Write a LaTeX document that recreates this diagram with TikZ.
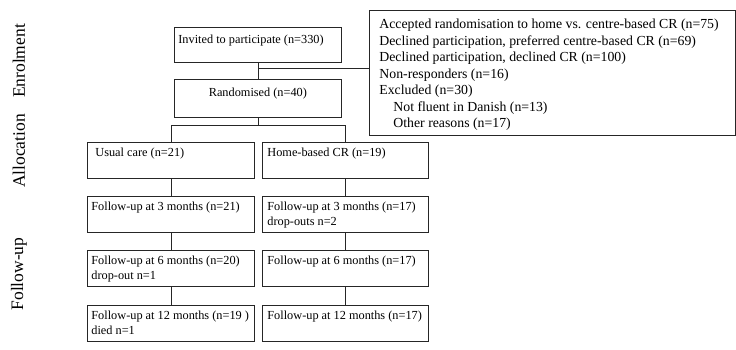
\documentclass[tikz,border=0pt]{standalone}
\usepackage{fontspec}
\setmainfont{Liberation Serif}
\usetikzlibrary{calc}
\newcommand{\bxt}[4]{\parbox[t][#2][t]{#1}{\raggedright\fontsize{12.3}{15}\selectfont\rule{0pt}{#3}#4}}
\begin{document}
\begin{tikzpicture}[x=1pt,y=-1pt,
  box/.style={draw=black!85, line width=0.8pt, anchor=north west, inner xsep=3pt, inner ysep=0pt},
  conn/.style={draw=black!85, line width=0.8pt},
  side/.style={rotate=90, font=\fontsize{17.5}{20}\selectfont, inner sep=0pt}]
\useasboundingbox (0,0) rectangle (736,349);

% side labels
\node[side] (lenr) at (19,61) {Enrolment};
\node[side] (lall) at (19,151) {Allocation};
\node[side] (lfol) at (19,274) {Follow-up};

% top boxes
\node[box] (inv) at (174,27) {\bxt{161pt}{35pt}{16pt}{\hspace*{1pt}Invited to participate (n=330)}};
\node[box] (rand) at (174,79) {\bxt{161pt}{38pt}{17pt}{\centering Randomised (n=40)}};

% exclusion box
\node[box, inner xsep=10pt] (excl) at (369,10) {\parbox[t][125pt][t]{346pt}{\raggedright\fontsize{13.8}{16.5}\selectfont\rule{0pt}{18.5pt}Accepted randomisation to home vs. centre-based CR (n=75)\\
Declined participation, preferred centre-based CR (n=69)\\
Declined participation, declined CR (n=100)\\
Non-responders (n=16)\\
Excluded (n=30)\\
\hspace*{14pt}Not fluent in Danish (n=13)\\
\hspace*{14pt}Other reasons (n=17)}};

% left column
\node[box] (uc) at (87,142) {\bxt{161pt}{36pt}{14pt}{\hspace*{5pt}Usual care (n=21)}};
\node[box] (uc3) at (87,196) {\bxt{161pt}{36pt}{14.5pt}{\hspace*{1pt}Follow-up at 3 months (n=21)}};
\node[box] (uc6) at (87,250) {\bxt{161pt}{36pt}{14pt}{\hspace*{1pt}Follow-up at 6 months (n=20)\\\hspace*{1pt}drop-out n=1}};
\node[box] (uc12) at (87,305) {\bxt{161pt}{36pt}{14pt}{\hspace*{1pt}Follow-up at 12 months (n=19 )\\\hspace*{1pt}died n=1}};

% right column
\node[box] (hb) at (262,142) {\bxt{160pt}{36pt}{14pt}{\hspace*{2pt}Home-based CR (n=19)}};
\node[box] (hb3) at (262,196) {\bxt{160pt}{36pt}{14pt}{\hspace*{2pt}Follow-up at 3 months (n=17)\\\hspace*{2pt}drop-outs n=2}};
\node[box] (hb6) at (262,250) {\bxt{160pt}{36pt}{14pt}{\hspace*{2pt}Follow-up at 6 months (n=17)}};
\node[box] (hb12) at (262,305) {\bxt{160pt}{36pt}{14pt}{\hspace*{2pt}Follow-up at 12 months (n=17)}};

% connectors
\draw[conn] (inv.south) -- (rand.north);
\coordinate (j) at ($(inv.south)!0.35!(rand.north)$);
\draw[conn] (j) -- (j -| excl.west);
\coordinate (br) at ([yshift=-8pt]rand.south);
\draw[conn] (rand.south) -- (br);
\draw[conn] (br) -| (uc.north);
\draw[conn] (br) -| (hb.north);
\draw[conn] (uc.south) -- (uc3.north);
\draw[conn] (uc3.south) -- (uc6.north);
\draw[conn] (uc6.south) -- (uc12.north);
\draw[conn] (hb.south) -- (hb3.north);
\draw[conn] (hb3.south) -- (hb6.north);
\draw[conn] (hb6.south) -- (hb12.north);
\end{tikzpicture}
\end{document}
